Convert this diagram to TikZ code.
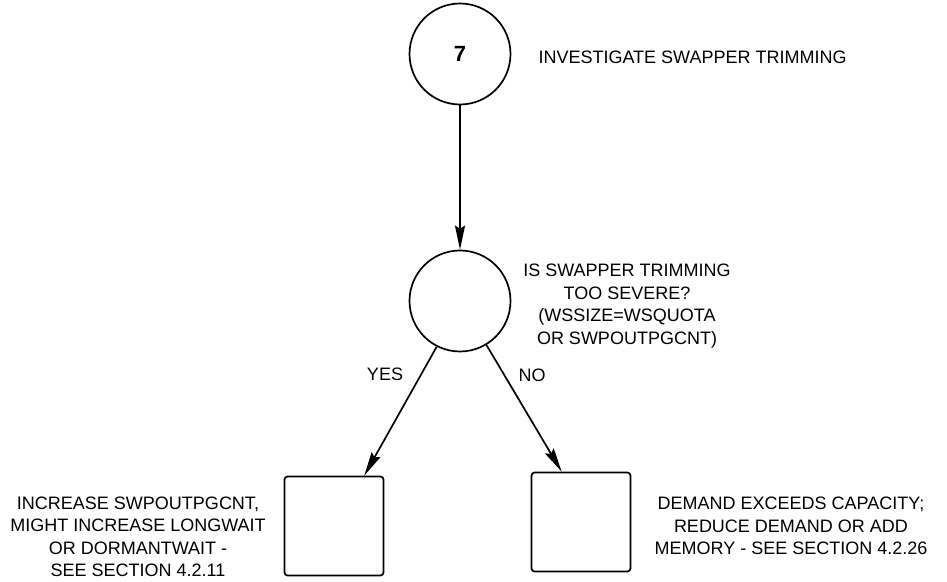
\documentclass[tikz,border=0pt]{standalone}
\usepackage{fontspec}
\setmainfont{Liberation Sans}
\usetikzlibrary{arrows.meta}

\begin{document}
\begin{tikzpicture}[x=1pt,y=1pt,
	step circle/.style={draw,circle,line width=1.7pt,minimum size=101pt,inner sep=0pt},
	end box/.style={draw,rectangle,rounded corners=3pt,line width=1.7pt,minimum size=99pt},
	flow/.style={line width=1.7pt,-{Stealth[length=24pt,width=10pt,inset=3pt]}},
	note/.style={align=center,font=\fontsize{18}{22.5}\selectfont}]
	\useasboundingbox (0,0) rectangle (947,581);
	% entry point
	\node[step circle,font=\fontsize{22}{24}\selectfont\bfseries] (start) at (460,527) {7};
	\node[note,anchor=west] (title) at (535,524) {INVESTIGATE SWAPPER TRIMMING};

	% decision
	\node[step circle] (severe) at (460,280) {};
	\node[note] (question) at (627,275) {IS SWAPPER TRIMMING\\TOO SEVERE?\\(WSSIZE=WSQUOTA\\OR SWPOUTPGCNT)};
	\draw[flow] (start) -- (severe);

	% outcomes
	\node[end box] (yes) at (334,55) {};
	\node[end box] (no) at (581,59) {};
	\draw[flow] (severe.243) -- (yes.59);
	\draw[flow] (severe.301) -- (no.111);
	\node[note] (yeslabel) at (385,207) {YES};
	\node[note] (nolabel) at (532,206) {NO};

	% advice
	\node[note] (yesnote) at (138,44) {INCREASE SWPOUTPGCNT,\\MIGHT INCREASE LONGWAIT\\OR DORMANTWAIT -\\SEE SECTION 4.2.11};
	\node[note] (nonote) at (791,55) {DEMAND EXCEEDS CAPACITY;\\REDUCE DEMAND OR ADD\\MEMORY - SEE SECTION 4.2.26};
\end{tikzpicture}
\end{document}
